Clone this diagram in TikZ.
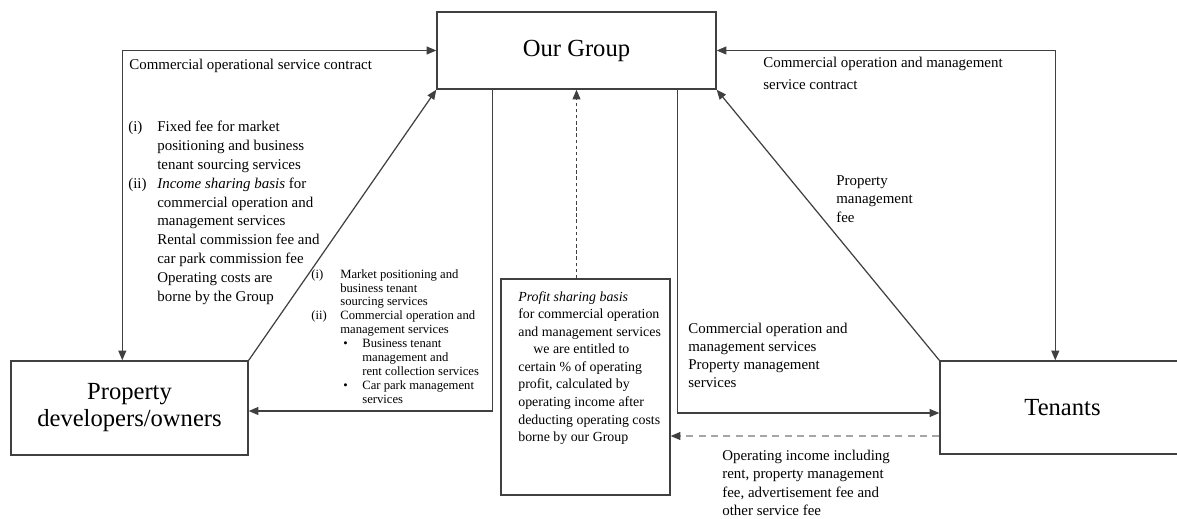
\documentclass[tikz,border=0pt]{standalone}
\usepackage{fontspec}
\setmainfont{Liberation Serif}
\usetikzlibrary{arrows.meta}
\newcommand{\itm}[2][0.58cm]{\makebox[#1][l]{#2}}

\begin{document}
\begin{tikzpicture}[x=0.02cm,y=-0.02cm]
\tikzstyle{lien}=[>={Triangle[length=5.5pt,width=4.5pt]},draw=black!75,line width=0.7pt]
\tikzset{bloc/.style={draw=black!75,line width=0.8pt,inner sep=0pt,font=\fontsize{14}{15.4}\selectfont,align=center},
texte/.style={anchor=north west,inner sep=0pt,align=left,font=\fontsize{8.5}{#1}\selectfont},
texte/.default={10.7},
petit/.style={texte,font=\fontsize{7.2}{7.9}\selectfont}}
\useasboundingbox (0,0) rectangle (1177,518);

\node[bloc,minimum width=5.58cm,minimum height=1.54cm] (group) at (576.5,50.5) {Our Group};
\node[bloc,minimum width=4.74cm,minimum height=1.88cm] (owners) at (129.5,408) {Property\\developers/owners};
\node[bloc,minimum width=4.9cm,minimum height=1.86cm] (tenants) at (1062.5,407.5) {Tenants};
\node[bloc,minimum width=3.38cm,minimum height=4.32cm] (profit) at (585.5,387) {};

\node[texte] (contratG) at (129,59) {Commercial operational service contract};
\node[texte] (feesG) at (128,121) {\itm{(i)}Fixed fee for market\\\itm{}positioning and business\\\itm{}tenant sourcing services\\\itm{(ii)}\textit{Income sharing basis} for\\\itm{}commercial operation and\\\itm{}management services\\\itm{}Rental commission fee and\\\itm{}car park commission fee\\\itm{}Operating costs are\\\itm{}borne by the Group};
\node[petit] (svcG) at (311,269) {\itm{(i)}Market positioning and\\\itm{}business tenant\\\itm{}sourcing services\\\itm{(ii)}Commercial operation and\\\itm{}management services\\\itm[0.64cm]{}\itm[0.38cm]{\textbullet}Business tenant\\\itm[1.02cm]{}management and\\\itm[1.02cm]{}rent collection services\\\itm[0.64cm]{}\itm[0.38cm]{\textbullet}Car park management\\\itm[1.02cm]{}services};
\node[texte,font=\fontsize{7.9}{10}\selectfont] (profittxt) at (518,291) {\textit{Profit sharing basis}\\for commercial operation\\and management services\\\hspace*{0.3cm}we are entitled to\\certain \% of operating\\profit, calculated by\\operating income after\\deducting operating costs\\borne by our Group};
\node[texte={10.2}] (svcT) at (688,323) {Commercial operation and\\management services\\Property management\\services};
\node[texte={10.4}] (income) at (722,450) {Operating income including\\rent, property management\\fee, advertisement fee and\\other service fee};
\node[texte={12.5}] (contratT) at (763,57) {Commercial operation and management\\service contract};
\node[texte={10.5}] (pmfee) at (836,175) {Property\\management\\fee};

\draw[lien,<->] ([xshift=2.24cm]owners.north west) |- (group.west);
\draw[lien,->] (owners.north east) -- (group.south west);
\draw[lien,->] ([xshift=1.12cm]group.south west) |- ([yshift=-0.06cm]owners.east);
\draw[lien,->,dash pattern=on 2pt off 1.5pt] (profit.north -| group.south) -- (group.south);
\draw[lien,->] ([xshift=-0.78cm]group.south east) |- ([yshift=-0.11cm]tenants.west);
\draw[lien,->] (tenants.north west) -- (group.south east);
\draw[lien,<->] ([xshift=2.32cm]tenants.north west) |- (group.east);
\draw[lien,draw=black!35,dash pattern=on 4pt off 3pt,-{Triangle[length=5.5pt,width=4.5pt,color=black!75]}] ([yshift=-0.57cm]tenants.west) coordinate (t1) -- (t1 -| profit.east);

\end{tikzpicture}
\end{document}
